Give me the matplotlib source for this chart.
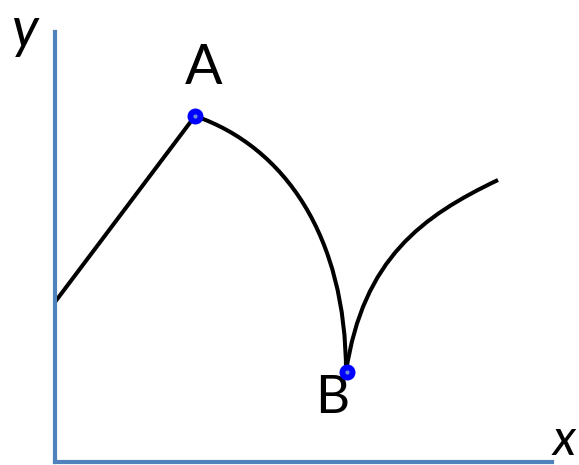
import numpy as np
import matplotlib
matplotlib.use("Agg")
import matplotlib.pyplot as plt
from matplotlib.path import Path
from matplotlib.patches import PathPatch

# Data (logical units, origin at axes corner)
line_x = [0.0, 2.8]
line_y = [3.2, 6.92]

# cubic Bezier: start, control 1, control 2, end
arc_x = [2.8, 4.6, 5.82, 5.82]
arc_y = [6.92, 6.3, 4.5, 1.8]

rise_x = [5.82, 6.16, 7.35, 8.86]
rise_y = [1.8, 4.07, 4.92, 5.64]

pts_x = [2.8, 5.84]
pts_y = [6.92, 1.8]
pts_labels = ["A", "B"]

axis_color = "#4F81BD"

fig = plt.figure(figsize=(5.79, 4.65), dpi=100)
ax = fig.add_axes([0, 0, 1, 1])
ax.set_xlim(-1.1, 10.48)
ax.set_ylim(-0.06, 9.24)

for s in ["top", "right"]:
    ax.spines[s].set_visible(False)
ax.spines["left"].set_position(("data", 0))
ax.spines["bottom"].set_position(("data", 0))
ax.spines["left"].set_bounds(0, 8.6)
ax.spines["bottom"].set_bounds(0, 9.94)
for s in ["left", "bottom"]:
    ax.spines[s].set_color(axis_color)
    ax.spines[s].set_linewidth(3.0)
ax.set_xticks([])
ax.set_yticks([])
ax.patch.set_alpha(0)

lw = 2.9
ax.plot(line_x, line_y, color="black", lw=lw, solid_capstyle="butt")
codes = [Path.MOVETO, Path.CURVE4, Path.CURVE4, Path.CURVE4]
for xs, ys in [(arc_x, arc_y), (rise_x, rise_y)]:
    path = Path(np.column_stack([xs, ys]), codes)
    ax.add_patch(PathPatch(path, facecolor="none", edgecolor="black", lw=lw, capstyle="butt"))

ax.plot(pts_x, pts_y, "o", color="#0000FF", markersize=10.5, zorder=5)
ax.plot(pts_x, pts_y, "o", color="#6A8FD8", markersize=2, zorder=6)

font = ["Lato", "DejaVu Sans"]
ax.text(2.97, 7.88, pts_labels[0], fontsize=40, family=font, ha="center", va="center")
ax.text(5.54, 1.28, pts_labels[1], fontsize=38, family=font, ha="center", va="center")

ax.text(-0.6, 8.62, "y", fontsize=40, family=font, style="italic", ha="center", va="center")
ax.text(10.42, -0.04, "x", fontsize=36, family=font, style="italic", ha="right", va="bottom")

fig.savefig("out.png", dpi=100)
